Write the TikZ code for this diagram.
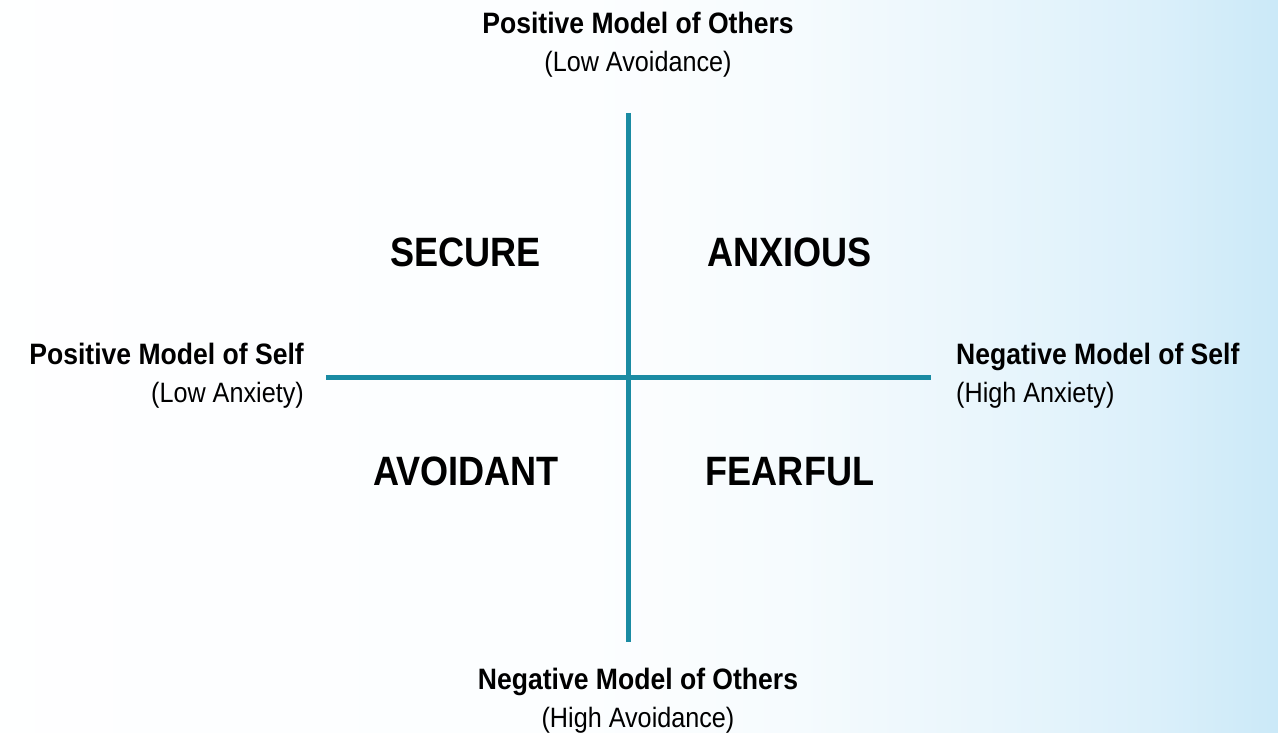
\documentclass[tikz,border=0pt]{standalone}
\usepackage{fontspec}
\setmainfont{Liberation Sans}
\newfontfamily\axisfont[FakeStretch=0.9]{Liberation Sans}
\newfontfamily\quadfont[FakeStretch=0.88]{Liberation Sans}
\definecolor{axisteal}{HTML}{1A8BA3}
\definecolor{paleblue}{HTML}{CBE9F8}
% the fill box spans 25bp..75bp of the shading
\pgfdeclarehorizontalshading{bgshade}{100bp}{%
  color(0bp)=(white!98!paleblue);
  color(25bp)=(white!98!paleblue);
  color(50bp)=(white!93!paleblue);
  color(56bp)=(white!82!paleblue);
  color(63bp)=(white!60!paleblue);
  color(70bp)=(white!32!paleblue);
  color(75bp)=(paleblue);
  color(100bp)=(paleblue)}
\begin{document}
\begin{tikzpicture}[x=1pt,y=1pt,
  axisline/.style={draw=axisteal,line width=5pt},
  axistitle/.style={font=\axisfont\fontsize{29.5}{34}\bfseries\selectfont,inner sep=0pt},
  axisnote/.style={font=\axisfont\fontsize{28}{32}\selectfont,inner sep=0pt},
  quadlabel/.style={font=\quadfont\fontsize{41}{46}\bfseries\selectfont,inner sep=0pt,anchor=base}]
  % background
  \useasboundingbox (0,0) rectangle (1278,-733);
  \shade[shading=bgshade] (0,0) rectangle (1278,-733);
  % axis end points
  \coordinate (top) at (628.5,-113);
  \coordinate (bottom) at (628.5,-642);
  \coordinate (left) at (326,-377.5);
  \coordinate (right) at (931,-377.5);
  \draw[axisline] (left) -- (right);
  \draw[axisline] (top) -- (bottom);
  % vertical axis titles
  \node[axistitle,anchor=base] (othpos) at (638,-34) {Positive Model of Others};
  \node[axisnote,anchor=base] (othposnote) at (638,-72) {(Low Avoidance)};
  \node[axistitle,anchor=base] (othneg) at (638,-689) {Negative Model of Others};
  \node[axisnote,anchor=base] (othnegnote) at (638,-727) {(High Avoidance)};
  % horizontal axis titles
  \node[axistitle,anchor=base east] (selfpos) at (304,-364) {Positive Model of Self};
  \node[axisnote,anchor=base east] (selfposnote) at (304,-402) {(Low Anxiety)};
  \node[axistitle,anchor=base west] (selfneg) at (956,-364) {Negative Model of Self};
  \node[axisnote,anchor=base west] (selfnegnote) at (956,-402) {(High Anxiety)};
  % quadrant labels
  \node[quadlabel] (secure) at (465.5,-266) {SECURE};
  \node[quadlabel] (anxious) at (789.5,-266) {ANXIOUS};
  \node[quadlabel] (avoidant) at (466,-485) {AVOIDANT};
  \node[quadlabel] (fearful) at (790,-485) {FEARFUL};
\end{tikzpicture}
\end{document}
